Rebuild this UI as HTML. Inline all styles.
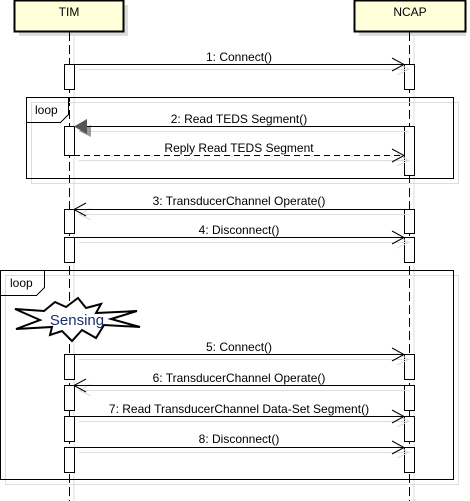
<!DOCTYPE html>
<html><head><meta charset="utf-8"><style>
html,body{margin:0;padding:0;background:#fff;}
svg{display:block;}
text{font-family:"Liberation Sans",sans-serif;font-size:12px;fill:#000;}
</style></head><body>
<svg width="470" height="501" viewBox="0 0 470 501" xmlns="http://www.w3.org/2000/svg">
<line x1="74" y1="36" x2="74" y2="501" stroke="#ddd" stroke-width="1"/>
<line x1="414" y1="36" x2="414" y2="501" stroke="#ddd" stroke-width="1"/>
<rect x="19" y="5" width="109" height="31" fill="#ddd"/>
<rect x="359" y="5" width="107" height="31" fill="#ddd"/>
<rect x="14.5" y="0.5" width="109" height="31" fill="#ffffd9" stroke="#000" stroke-width="2"/>
<rect x="354.5" y="0.5" width="111" height="31" fill="#ffffd9" stroke="#000" stroke-width="2"/>
<text x="69" y="16" text-anchor="middle">TIM</text>
<text x="410" y="16" text-anchor="middle">NCAP</text>
<line x1="69.5" y1="32" x2="69.5" y2="501" stroke="#000" stroke-dasharray="9,4"/>
<line x1="409.5" y1="32" x2="409.5" y2="501" stroke="#000" stroke-dasharray="9,4"/>

<rect x="31.5" y="102.5" width="427" height="81" fill="none" stroke="#ddd"/>
<rect x="5.5" y="275.5" width="453" height="209" fill="none" stroke="#ddd"/>
<rect x="26.5" y="97.5" width="427" height="81" fill="none" stroke="#000"/>
<polyline points="26.5,122.5 60.5,122.5 68.5,114.5 68.5,97.5" fill="none" stroke="#000"/>
<text x="35" y="114">loop</text>
<rect x="0.5" y="270.5" width="453" height="209" fill="none" stroke="#000"/>
<polyline points="0.5,295.5 36.5,295.5 44.5,287.5 44.5,270.5" fill="none" stroke="#000"/>
<text x="10" y="287">loop</text>

<g fill="#fff" stroke="#000">
<rect x="64.5" y="64.5" width="10" height="25"/>
<rect x="404.5" y="64.5" width="10" height="25"/>
<rect x="64.5" y="126.5" width="10" height="29"/>
<rect x="404.5" y="126.5" width="10" height="49"/>
<rect x="64.5" y="209.5" width="10" height="24"/>
<rect x="404.5" y="209.5" width="10" height="24"/>
<rect x="64.5" y="237.5" width="10" height="25"/>
<rect x="404.5" y="237.5" width="10" height="25"/>
<rect x="64.5" y="354.5" width="10" height="25"/>
<rect x="404.5" y="354.5" width="10" height="25"/>
<rect x="64.5" y="385.5" width="10" height="25"/>
<rect x="404.5" y="385.5" width="10" height="25"/>
<rect x="64.5" y="416.5" width="10" height="25"/>
<rect x="404.5" y="416.5" width="10" height="25"/>
<rect x="64.5" y="447.5" width="10" height="25"/>
<rect x="404.5" y="447.5" width="10" height="25"/>
</g>

<g stroke="#ddd" fill="none">
<line x1="79" y1="69.5" x2="409" y2="69.5"/><polyline points="397,63 409,69.5 397,75"/>
<line x1="79" y1="131.5" x2="409" y2="131.5"/>
<line x1="79" y1="160.5" x2="409" y2="160.5"/><polyline points="397,154 409,160.5 397,166"/>
<line x1="79" y1="214.5" x2="409" y2="214.5"/><polyline points="91,208 79,214.5 91,220"/>
<line x1="79" y1="242.5" x2="409" y2="242.5"/><polyline points="397,236 409,242.5 397,248"/>
<line x1="79" y1="359.5" x2="409" y2="359.5"/><polyline points="397,353 409,359.5 397,365"/>
<line x1="79" y1="390.5" x2="409" y2="390.5"/><polyline points="91,384 79,390.5 91,396"/>
<line x1="79" y1="421.5" x2="409" y2="421.5"/><polyline points="397,415 409,421.5 397,427"/>
<line x1="79" y1="452.5" x2="409" y2="452.5"/><polyline points="397,446 409,452.5 397,458"/>
</g>
<polygon points="79,131 91,125 91,137" fill="#999"/>
<g stroke="#000" fill="none">
<line x1="74" y1="64.5" x2="404" y2="64.5"/><polyline points="392,58 404,64.5 392,71"/>
<line x1="74" y1="126.5" x2="404" y2="126.5"/>
<line x1="74" y1="155.5" x2="404" y2="155.5" stroke-dasharray="6,4"/><polyline points="392,149 404,155.5 392,162"/>
<line x1="74" y1="209.5" x2="404" y2="209.5"/><polyline points="86,203 74,209.5 86,216"/>
<line x1="74" y1="237.5" x2="404" y2="237.5"/><polyline points="392,231 404,237.5 392,244"/>
<line x1="74" y1="354.5" x2="404" y2="354.5"/><polyline points="392,348 404,354.5 392,361"/>
<line x1="74" y1="385.5" x2="404" y2="385.5"/><polyline points="86,379 74,385.5 86,392"/>
<line x1="74" y1="416.5" x2="404" y2="416.5"/><polyline points="392,410 404,416.5 392,423"/>
<line x1="74" y1="447.5" x2="404" y2="447.5"/><polyline points="392,441 404,447.5 392,454"/>
</g>
<polygon points="74,126.5 87,119 87,134" fill="#555"/>

<g text-anchor="middle">
<text x="239" y="61">1: Connect()</text>
<text x="239" y="123">2: Read TEDS Segment()</text>
<text x="239" y="152">Reply Read TEDS Segment</text>
<text x="239" y="205">3: TransducerChannel Operate()</text>
<text x="239" y="234">4: Disconnect()</text>
<text x="239" y="351">5: Connect()</text>
<text x="239" y="382">6: TransducerChannel Operate()</text>
<text x="239" y="413">7: Read TransducerChannel Data-Set Segment()</text>
<text x="239" y="443">8: Disconnect()</text>
</g>

<polygon points="15,309 44,311 55,302 66,307 78,298 86,308 101,304 96,313 137,311 111,319 140,327 104,325 96,338 82,330 72,341 62,331 50,335 52,327 16,329 40,320" fill="#fff" stroke="#000" stroke-width="2" stroke-linejoin="miter"/>
<text x="77" y="325" text-anchor="middle" style="font-size:15px;fill:#1a2f6e;">Sensing</text>
</svg>
</body></html>
